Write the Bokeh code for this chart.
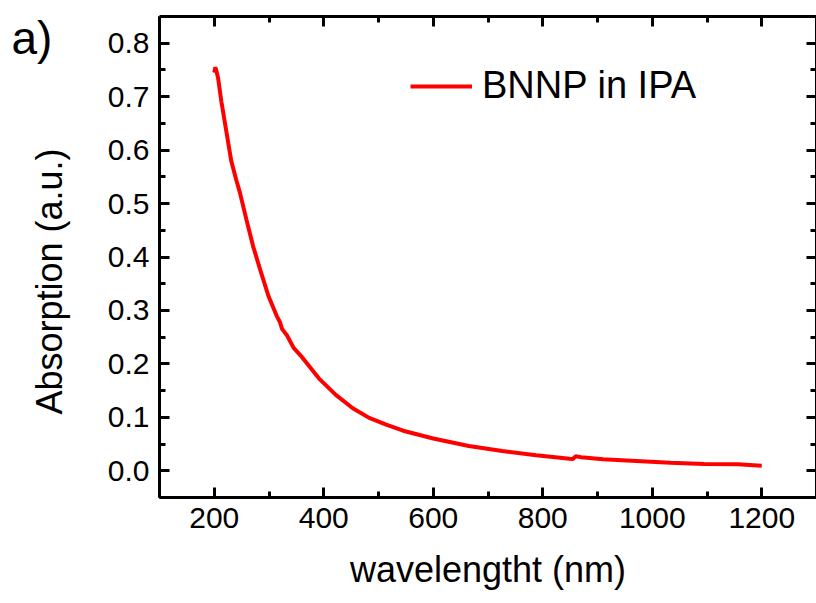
import math
from bokeh.plotting import figure
from bokeh.layouts import row
from bokeh.models import (Range1d, LinearAxis, SingleIntervalTicker, PrintfTickFormatter,
                          Legend, LegendItem, CustomLabelingPolicy)
from bokeh.core.properties import value
from bokeh.embed import file_html
from bokeh.resources import INLINE

wavelength = [200, 202, 204, 207, 213, 219, 225, 231, 240, 247, 259, 271, 284, 299, 314,
              320, 324, 333, 345, 360, 391, 422, 453, 483, 514, 545, 600, 665, 726, 788,
              849, 855, 860, 870, 910, 971, 1033, 1095, 1156, 1185, 1200]
absorption = [0.745, 0.755, 0.748, 0.735, 0.691, 0.654, 0.617, 0.58, 0.545, 0.52, 0.469,
              0.42, 0.376, 0.327, 0.29, 0.278, 0.265, 0.253, 0.23, 0.213, 0.173, 0.142,
              0.117, 0.099, 0.0865, 0.075, 0.0605, 0.0463, 0.037, 0.029, 0.0225, 0.022,
              0.027, 0.0255, 0.0216, 0.0185, 0.015, 0.0128, 0.012, 0.0105, 0.0095]
series_name = "BNNP in IPA"
x_label = "wavelengtht (nm)"
y_label = "Absorption (a.u.)"
panel_label = "a)"

FONT = "Liberation Sans"
W, H = 816, 603
LEFT_W = 80          # strip left of the plot holding "a)" and the y-axis title
TOP, BOTTOM = 16, 106

# left strip: coordinates equal page pixels (y grows downward)
tag = figure(width=LEFT_W, height=H, output_backend="svg", toolbar_location=None,
             x_range=Range1d(0, LEFT_W), y_range=Range1d(H - BOTTOM, TOP),
             min_border_left=0, min_border_right=0, min_border_top=TOP,
             min_border_bottom=BOTTOM, x_axis_location=None, y_axis_location=None)
tag.grid.visible = False
tag.outline_line_color = None
tag.text(x=[11], y=[37], text=[panel_label], text_font=value(FONT),
         text_font_size="46px", text_color="black", text_baseline="middle",
         text_align="left")
tag.text(x=[49], y=[281], text=[y_label], text_font=value(FONT),
         text_font_size="36px", text_color="black", text_baseline="middle",
         text_align="center", angle=math.pi / 2)

p = figure(width=W - LEFT_W, height=H, output_backend="svg", toolbar_location=None,
           x_range=Range1d(100, 1300), y_range=Range1d(-0.05, 0.85),
           min_border_left=159 - LEFT_W, min_border_right=0, min_border_top=TOP,
           min_border_bottom=BOTTOM, x_axis_location=None, y_axis_location=None)
p.grid.visible = False
p.outline_line_color = None

no_labels = CustomLabelingPolicy(
    code="for (let i = 0; i < indices.size; i++) { indices.set(i, false) } return indices")

def style(ax, labels=True):
    ax.axis_line_width = 3
    ax.axis_line_color = "black"
    ax.major_tick_line_width = 3
    ax.minor_tick_line_width = 3
    ax.major_tick_in = 10
    ax.major_tick_out = 0
    ax.minor_tick_in = 6
    ax.minor_tick_out = 0
    ax.major_label_text_font = FONT
    ax.major_label_text_font_size = "30px"
    ax.major_label_text_color = "black"
    ax.axis_label_text_font = FONT
    ax.axis_label_text_font_size = "36px"
    ax.axis_label_text_font_style = "normal"
    ax.axis_label_text_color = "black"
    if not labels:
        ax.major_label_text_font_size = "0px"
        ax.major_label_policy = no_labels
        ax.major_label_standoff = 0
        ax.axis_label_standoff = 0

xt = SingleIntervalTicker(interval=200, num_minor_ticks=2)
yt = SingleIntervalTicker(interval=0.1, num_minor_ticks=2)

xb = LinearAxis(ticker=xt, axis_label=x_label)
style(xb)
xb.major_label_standoff = 10
xb.axis_label_standoff = 18
p.add_layout(xb, "below")

yl = LinearAxis(ticker=yt, formatter=PrintfTickFormatter(format="%.1f"))
style(yl)
yl.major_label_standoff = 10
yl.axis_label_standoff = 0
p.add_layout(yl, "left")

xa = LinearAxis(ticker=xt)
style(xa, labels=False)
p.add_layout(xa, "above")

yr = LinearAxis(ticker=yt)
style(yr, labels=False)
p.add_layout(yr, "right")

r = p.line(wavelength, absorption, line_color="#ff0000", line_width=4)

legend = Legend(items=[LegendItem(label=series_name, renderers=[r])],
                location=(251, 390), border_line_color=None, background_fill_alpha=0,
                padding=0, margin=0, glyph_width=62, glyph_height=36, label_standoff=10,
                label_text_font=FONT, label_text_font_size="38px", label_height=36,
                label_text_color="black")
p.add_layout(legend, "center")

layout = row(tag, p, spacing=0)
open("out.html", "w").write(file_html(layout, INLINE))
